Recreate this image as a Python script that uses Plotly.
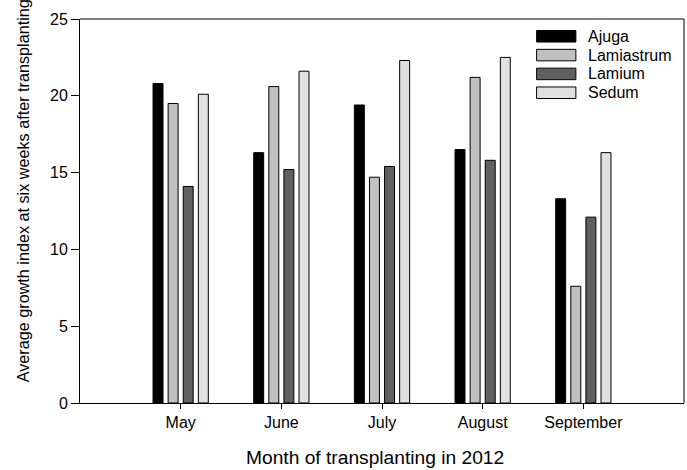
import plotly.graph_objects as go

# Growth index six weeks after transplanting, by month and genus
months = ["May", "June", "July", "August", "September"]
series_names = ["Ajuga", "Lamiastrum", "Lamium", "Sedum"]
ajuga = [20.8, 16.3, 19.4, 16.5, 13.3]
lamiastrum = [19.5, 20.6, 14.7, 21.2, 7.6]
lamium = [14.1, 15.2, 15.4, 15.8, 12.1]
sedum = [20.1, 21.6, 22.3, 22.5, 16.3]
y_ticks = [0, 5, 10, 15, 20, 25]

fills = ["#000000", "#c0c0c0", "#606060", "#e0e0e0"]
values = [ajuga, lamiastrum, lamium, sedum]

FONT = "Liberation Sans, Arial, sans-serif"

fig = go.Figure()
for name, vals, col in zip(series_names, values, fills):
    fig.add_trace(go.Bar(
        x=list(range(len(months))), y=vals, name=name,
        marker=dict(color=col, line=dict(color="#000000", width=1)),
        showlegend=False,
    ))

fig.update_layout(
    width=687, height=470,
    margin=dict(l=80, r=3, t=19, b=67),
    paper_bgcolor="white", plot_bgcolor="white",
    barmode="group", bargap=0.4, bargroupgap=0.34,
    font=dict(family=FONT, size=16, color="#000000"),
    xaxis=dict(
        range=[-1, 5], tickmode="array",
        tickvals=list(range(len(months))), ticktext=months,
        ticks="outside", ticklen=5, tickcolor="#000000",
        showline=True, linecolor="#000000", linewidth=1,
        showgrid=False, zeroline=False, tickfont=dict(size=16),
    ),
    yaxis=dict(
        range=[0, 25], tickmode="array", tickvals=y_ticks,
        ticks="outside", ticklen=8, tickcolor="#000000",
        showline=True, linecolor="#000000", linewidth=1,
        showgrid=False, zeroline=False, tickfont=dict(size=16),
    ),
)

# Top and right frame lines
fig.add_shape(type="line", xref="paper", yref="paper", x0=0, x1=1, y0=1, y1=1,
              line=dict(color="#555555", width=1.5))
fig.add_shape(type="line", xref="paper", yref="paper", x0=1, x1=1, y0=0, y1=1,
              line=dict(color="#555555", width=1.5))

# Axis titles
fig.add_annotation(text="Month of transplanting in 2012", xref="paper", yref="paper",
                   x=0.489, y=-0.143, xanchor="center", yanchor="middle",
                   showarrow=False, font=dict(size=19.2))
fig.add_annotation(text="Average growth index at six weeks after transplanting",
                   xref="paper", yref="paper", x=-0.094, y=0.552,
                   xanchor="center", yanchor="middle", textangle=-90,
                   showarrow=False, font=dict(size=16.2))

# Legend with wide rectangular swatches
lx0, lx1 = 0.756, 0.821
ytop = 0.955
step = 0.049
for i, (name, col) in enumerate(zip(series_names, fills)):
    yc = ytop - i * step
    fig.add_shape(type="rect", xref="paper", yref="paper",
                  x0=lx0, x1=lx1, y0=yc - 0.015, y1=yc + 0.015,
                  fillcolor=col, line=dict(color="#000000", width=1))
    fig.add_annotation(text=name, xref="paper", yref="paper",
                       x=0.837, y=yc, xanchor="left", yanchor="middle",
                       showarrow=False, font=dict(size=16))

fig.write_html("out.html")
